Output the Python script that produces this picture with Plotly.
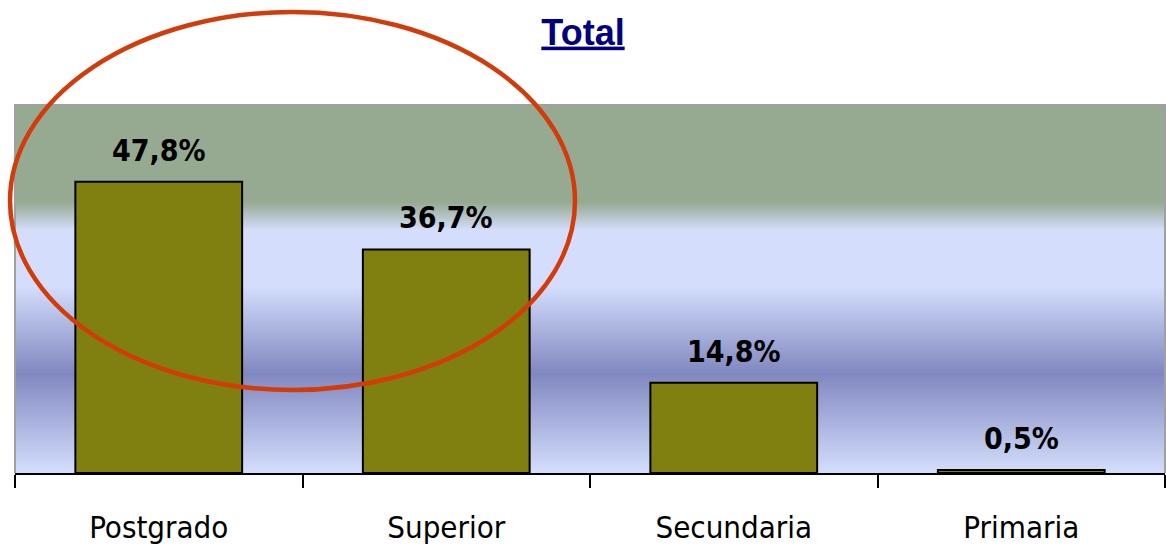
import plotly.graph_objects as go

categories = ["Postgrado", "Superior", "Secundaria", "Primaria"]
values = [47.8, 36.7, 14.8, 0.5]
labels = ["47,8%", "36,7%", "14,8%", "0,5%"]

NARROW = "DejaVu Sans Condensed, Liberation Sans Narrow, Arial Narrow, sans-serif"

fig = go.Figure()
fig.add_trace(go.Bar(
    x=categories, y=values,
    marker=dict(color="#808010", line=dict(color="#000000", width=2)),
    hoverinfo="skip",
))

# data labels
for c, v, t in zip(categories, values, labels):
    fig.add_annotation(x=c, y=v, text=f"<b>{t}</b>", showarrow=False,
                       yanchor="bottom", yshift=12,
                       font=dict(family=NARROW, size=30, color="#000000"))

# gradient background as thin strips (y domain coordinates, 0=bottom, 1=top)
stops = [
    (0.00, (212, 222, 252)),
    (0.27, (128, 136, 192)),
    (0.51, (212, 222, 252)),
    (0.66, (212, 222, 252)),
    (0.735, (150, 170, 146)),
    (1.00, (150, 170, 146)),
]

def col_at(p):
    for (p0, c0), (p1, c1) in zip(stops[:-1], stops[1:]):
        if p0 <= p <= p1:
            f = 0 if p1 == p0 else (p - p0) / (p1 - p0)
            return "rgb(%d,%d,%d)" % tuple(round(a + (b - a) * f) for a, b in zip(c0, c1))
    return "rgb(%d,%d,%d)" % stops[-1][1]

N = 184
shapes = []
for i in range(N):
    y0 = i / N
    y1 = (i + 1) / N
    shapes.append(dict(type="rect", xref="x domain", yref="y domain",
                       x0=0, x1=1, y0=y0, y1=y1 + 0.002, layer="below",
                       line=dict(width=0), fillcolor=col_at((y0 + y1) / 2)))
# plot border (left/top/right)
shapes.append(dict(type="path", xref="x domain", yref="y domain",
                   path="M 0,0 L 0,1 L 1,1 L 1,0", layer="above",
                   line=dict(color="#a0a0a0", width=2)))
# red ellipse highlight
shapes.append(dict(type="circle", xref="paper", yref="paper",
                   x0=(10 - 15) / 1150, x1=(575 - 15) / 1150,
                   y0=(473 - 390) / 368, y1=(473 - 12) / 368,
                   line=dict(color="#d23c0a", width=4.5), layer="above"))

fig.update_layout(
    width=1166, height=549,
    margin=dict(l=15, r=1, t=105, b=76),
    paper_bgcolor="#ffffff",
    plot_bgcolor="rgba(0,0,0,0)",
    bargap=0.42,
    showlegend=False,
    shapes=shapes,
    title=dict(text="<b><u>Total</u></b>", x=0.5, xanchor="center",
               y=1 - 32 / 549, yanchor="middle",
               font=dict(family="Liberation Sans, Arial, sans-serif", size=36, color="#000080")),
    xaxis=dict(showgrid=False, showline=True, linecolor="#000000", linewidth=2,
               ticks="outside", tickson="boundaries", ticklen=13, tickwidth=2,
               tickcolor="#000000", range=[-0.5, 3.5], ticklabelstandoff=26,
               tickfont=dict(family=NARROW, size=31, color="#000000")),
    yaxis=dict(range=[0, 60.4], showgrid=False, showticklabels=False,
               zeroline=False, showline=False, ticks=""),
)

fig.write_html("out.html")
